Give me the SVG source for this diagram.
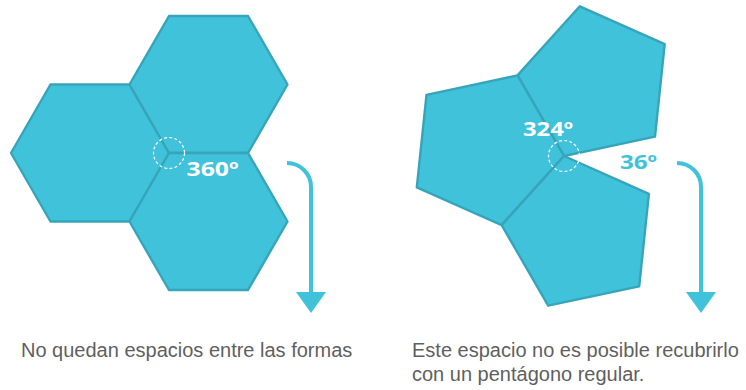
<svg xmlns="http://www.w3.org/2000/svg" width="746" height="390" viewBox="0 0 746 390">
  <style>
    .shape { fill: #41C2DB; stroke: #36A5BA; stroke-width: 2.4; stroke-linejoin: round; }
    .dash { fill: none; stroke: #FFFFFF; stroke-width: 1.2; stroke-dasharray: 3 2.2; }
    .deg { font-family: "Open Sans", "Liberation Sans", sans-serif; font-weight: 700; font-size: 20px; }
    .white { fill: #FFFFFF; }
    .blue { fill: #41C2DB; }
    .arrow { fill: none; stroke: #41C2DB; stroke-width: 4; }
    .cap { font-family: "Liberation Sans", "DejaVu Sans", sans-serif; font-size: 20px; fill: #5F5F5F; }
  </style>
  <defs>
    <marker id="head" viewBox="0 0 21 30" refX="0" refY="15" markerWidth="21" markerHeight="30" markerUnits="userSpaceOnUse" orient="auto">
      <path d="M0,0 L21,15 L0,30 Z" fill="#41C2DB"/>
    </marker>
  </defs>
  <rect width="746" height="390" fill="#FFFFFF"/>

  <!-- Hexagons -->
  <g id="hex-left">
    <polygon class="shape" points="50.5,84.5 129.5,84.5 169,153 129.5,221.5 50.5,221.5 11,153"/>
  </g>
  <g id="hex-top">
    <polygon class="shape" points="169,16 248,16 287.5,84.5 248,153 169,153 129.5,84.5"/>
  </g>
  <g id="hex-bottom">
    <polygon class="shape" points="169,153 248,153 287.5,221.5 248,290 169,290 129.5,221.5"/>
  </g>
  <g id="hex-angle">
    <circle class="dash" cx="169" cy="153" r="15.5"/>
    <text class="deg white" x="186.5" y="176" textLength="52" lengthAdjust="spacingAndGlyphs">360º</text>
  </g>

  <!-- Pentagons -->
  <g id="pent-top">
    <polygon class="shape" points="564,156 517.5,75.4 579.8,6.3 664.7,44.1 655,136.6"/>
  </g>
  <g id="pent-left">
    <polygon class="shape" points="564,156 501.7,225.1 416.8,187.3 426.5,94.8 517.5,75.4"/>
  </g>
  <g id="pent-bottom">
    <polygon class="shape" points="564,156 648.9,193.8 639.2,286.3 548.2,305.7 501.7,225.1"/>
  </g>
  <g id="pent-angle">
    <circle class="dash" cx="564" cy="156" r="15.5"/>
    <text class="deg white" x="523" y="136" textLength="50" lengthAdjust="spacingAndGlyphs">324º</text>
    <text class="deg blue" x="620" y="169" textLength="37" lengthAdjust="spacingAndGlyphs">36º</text>
  </g>

  <!-- Connectors -->
  <g id="connectors">
    <path class="arrow" d="M287,163 A24,24 0 0 1 311,187 L311,292" marker-end="url(#head)"/>
    <path class="arrow" d="M677,163 A24,24 0 0 1 701,187 L701,292" marker-end="url(#head)"/>
  </g>

  <!-- Captions -->
  <g id="captions">
    <text class="cap" x="21" y="357">No quedan espacios entre las formas</text>
    <text class="cap" x="412" y="357">Este espacio no es posible recubrirlo</text>
    <text class="cap" x="412" y="381">con un pentágono regular.</text>
  </g>
</svg>
